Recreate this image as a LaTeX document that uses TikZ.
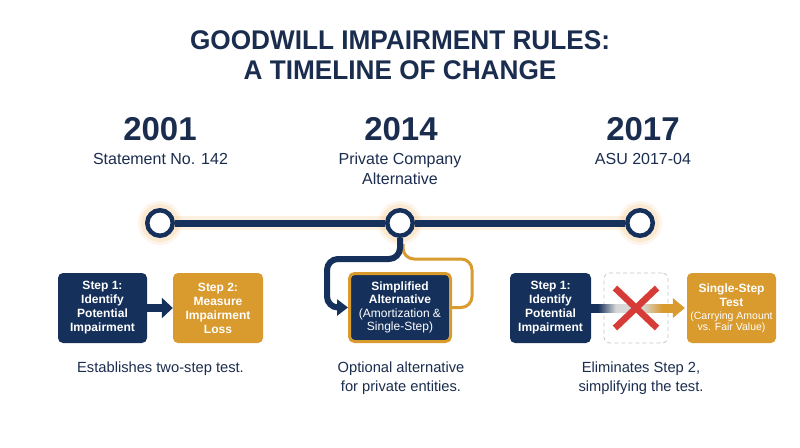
\documentclass[tikz,border=0pt]{standalone}
\usepackage{fontspec}
\setmainfont{Liberation Sans}
\newfontfamily\titlefont[FakeStretch=0.97]{Liberation Sans}
\usetikzlibrary{arrows.meta,calc,backgrounds}
\definecolor{navy}{HTML}{15305A}
\definecolor{textnavy}{HTML}{1B2D4F}
\definecolor{gold}{HTML}{D99A2E}
\definecolor{xred}{HTML}{D63B37}
\definecolor{fadegray}{HTML}{D8D8D8}
\definecolor{glow}{HTML}{F4C27A}
\pgfdeclarehorizontalshading{fadearrow}{100bp}{color(0bp)=(navy); color(25bp)=(navy); color(29bp)=(navy); color(40bp)=(fadegray); color(56bp)=(fadegray); color(68bp)=(gold); color(75bp)=(gold); color(100bp)=(gold)}
\tikzset{
  titletext/.style={font=\titlefont\bfseries\fontsize{27}{32}\selectfont, text=textnavy, inner sep=0pt, anchor=north},
  yeartext/.style={font=\bfseries\fontsize{33}{38}\selectfont, text=textnavy, inner sep=0pt, anchor=north},
  subtext/.style={font=\fontsize{16}{19.5}\selectfont, text=textnavy, inner sep=0pt, anchor=north, align=center},
  notetext/.style={font=\fontsize{14.7}{19}\selectfont, text=textnavy, inner sep=0pt, anchor=north, align=center},
  navybox/.style={fill=navy, rounded corners=5pt, text=white, minimum height=70pt, inner sep=0pt, align=center, font=\bfseries\fontsize{12}{14}\selectfont},
  goldbox/.style={navybox, fill=gold},
  dot/.style={circle, draw=navy, fill=white, line width=4.5pt, minimum size=25.5pt, inner sep=0pt},
  bigarrow/.style={draw=navy, line width=8pt, -{Triangle[length=11pt,width=20pt]}},
}
\begin{document}
\begin{tikzpicture}[x=1pt,y=-1pt]
\useasboundingbox (0,0) rectangle (800,447);

% titles
\node[titletext] (title1) at (400,30) {GOODWILL IMPAIRMENT RULES:};
\node[titletext] (title2) at (400,60) {A TIMELINE OF CHANGE};

% years
\node[yeartext] (y1) at (160,117) {2001};
\node[yeartext] (y2) at (401,117) {2014};
\node[yeartext] (y3) at (643,117) {2017};
\node[subtext] (l1) at (160.5,153) {Statement No. 142};
\node[subtext] (l2) at (400,153) {Private Company\\Alternative};
\node[subtext] (l3) at (643,153) {ASU 2017-04};

% timeline
\node[dot] (c1) at (160,223) {};
\node[dot] (c2) at (400,223) {};
\node[dot] (c3) at (640,223) {};
\begin{scope}[on background layer]
  \fill[white] (0,0) rectangle (800,447);
  \foreach \c in {c1,c2,c3} {
    \fill[glow, opacity=0.15] (\c) circle (22);
    \fill[glow, opacity=0.22] (\c) circle (19);
  }
  \draw[glow, opacity=0.22, line width=14pt] (c1) -- (c3);
  \draw[navy, line width=7pt] (c1) -- (c2) -- (c3);
\end{scope}

% 2001 panel
\node[navybox, minimum width=89pt] (s1a) at (102.5,308) {Step 1:\\Identify\\Potential\\Impairment};
\node[goldbox, minimum width=90pt] (s2a) at (218,308) {Step 2:\\Measure\\Impairment\\Loss};
\draw[bigarrow] (s1a) -- (s2a);

% 2014 panel
\node[navybox, draw=gold, line width=3pt, minimum width=101pt, minimum height=68pt,
      font=\fontsize{12}{13.5}\selectfont] (simp) at (400,307.5)
  {\textbf{Simplified}\\\textbf{Alternative}\\(Amortization \&\\Single-Step)};
\coordinate (ostart) at (403,244);
\coordinate (oright) at (472,259);
\coordinate (nleft) at (327,259);
\draw[gold, line width=3pt, rounded corners=11pt] (ostart) |- (oright) |- (simp.east);
\draw[navy, line width=6pt, rounded corners=11pt, -{Triangle[length=11pt,width=16pt]}]
  (c2.south) |- (nleft) |- (simp.west);

% 2017 panel
\node[navybox, minimum width=81pt] (s1c) at (550.5,308) {Step 1:\\Identify\\Potential\\Impairment};
\node[draw=black!22, dashed, dash pattern=on 4pt off 3pt, line width=0.8pt, rounded corners=6pt,
      minimum width=64pt, minimum height=70pt, inner sep=0pt] (dbox) at (636,308) {};
\node[goldbox, minimum width=89pt] (single) at (731.5,308)
  {Single-Step\\Test\\[-1pt]{\mdseries\fontsize{10.5}{11}\selectfont (Carrying Amount}\\[-3pt]{\mdseries\fontsize{10.5}{11}\selectfont vs. Fair Value)}};
\shade[shading=fadearrow] ($(s1c.east)+(0,-4)$) rectangle ($(single.west)+(-13,4)$);
\fill[gold] ($(single.west)+(-14,-10)$) -- ($(single.west)+(-2,0)$) -- ($(single.west)+(-14,10)$) -- cycle;
\draw[xred, line width=6.5pt] ($(dbox.center)+(-21,-20)$) -- ($(dbox.center)+(21,20)$);
\draw[xred, line width=6.5pt] ($(dbox.center)+(-21,20)$) -- ($(dbox.center)+(21,-20)$);

% notes
\node[notetext] (n1) at (160.5,362) {Establishes two-step test.};
\node[notetext] (n2) at (401,362) {Optional alternative\\for private entities.};
\node[notetext] (n3) at (641,362) {Eliminates Step 2,\\simplifying the test.};
\end{tikzpicture}
\end{document}
